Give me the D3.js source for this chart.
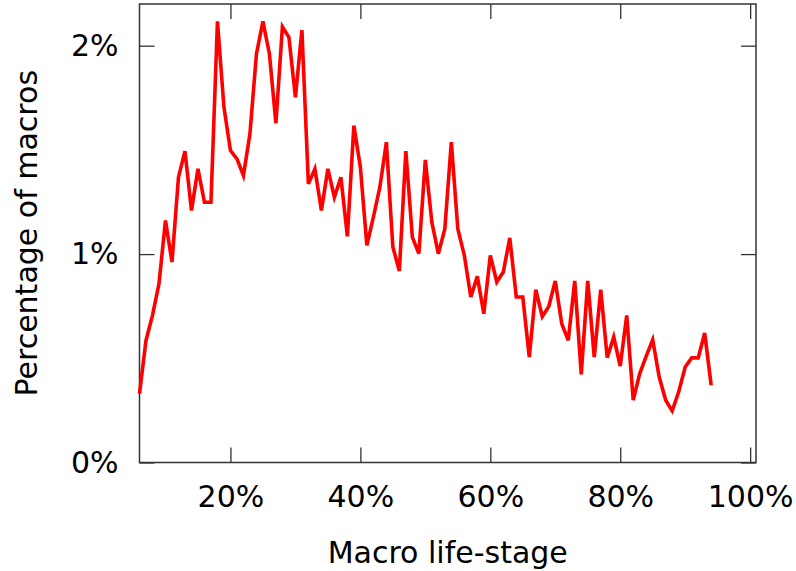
<!DOCTYPE html>
<html>
<head>
<meta charset="utf-8">
<script src="https://cdn.jsdelivr.net/npm/d3@7"></script>
<style>
  html, body { margin: 0; padding: 0; background: #fff; }
  svg text { font-family: "DejaVu Sans", sans-serif; fill: #000; }
</style>
</head>
<body>
<svg id="chart" width="796" height="571"></svg>
<script>
// Macro life-stage (percent of lifetime), one point per percent from 6% to 94%
const stages = d3.range(6, 95);
// Share of macros at each life-stage, in percent
const shares = [
  0.33, 0.586, 0.706, 0.858, 1.161, 0.962, 1.369, 1.494, 1.209, 1.409,
  1.249, 1.249, 2.117, 1.704, 1.497, 1.457, 1.377, 1.577, 1.96, 2.117,
  1.96, 1.628, 2.091, 2.04, 1.752, 2.075, 1.337, 1.409, 1.209, 1.409,
  1.273, 1.369, 1.085, 1.617, 1.417, 1.042, 1.177, 1.321, 1.537, 1.034,
  0.919, 1.494, 1.081, 1.002, 1.452, 1.153, 1.002, 1.121, 1.537, 1.121,
  0.994, 0.794, 0.893, 0.714, 0.994, 0.866, 0.914, 1.078, 0.794, 0.794,
  0.506, 0.829, 0.701, 0.749, 0.871, 0.666, 0.586, 0.871, 0.423, 0.871,
  0.506, 0.829, 0.503, 0.602, 0.463, 0.706, 0.299, 0.427, 0.51, 0.589,
  0.41, 0.299, 0.248, 0.339, 0.458, 0.502, 0.502, 0.621, 0.371
];
const xTicks = [20, 40, 60, 80, 100];
const yTicks = [0, 1, 2];
const xTitle = "Macro life-stage";
const yTitle = "Percentage of macros";

const svg = d3.select("#chart");
const plotL = 139.5, plotR = 756, plotT = 4, plotB = 462.5;
const tickLen = 15;

const x = d3.scaleLinear().domain([6, 100.9]).range([plotL, plotR]);
const y = d3.scaleLinear().domain([0, 2.2]).range([plotB, plotT]);

const fmt = d => d + "%";
const fontSize = 30;

// Axes: inward ticks on all four sides, labels only on bottom and left
const axisBottom = d3.axisBottom(x).tickValues(xTicks).tickFormat(fmt)
  .tickSizeInner(-tickLen).tickSizeOuter(0).tickPadding(23);
const axisTop = d3.axisTop(x).tickValues(xTicks).tickFormat("")
  .tickSizeInner(-tickLen).tickSizeOuter(0);
const axisLeft = d3.axisLeft(y).tickValues(yTicks).tickFormat(fmt)
  .tickSizeInner(-tickLen).tickSizeOuter(0).tickPadding(21);
const axisRight = d3.axisRight(y).tickValues(yTicks).tickFormat("")
  .tickSizeInner(-tickLen).tickSizeOuter(0);

function styleAxis(g) {
  g.select(".domain").remove();
  g.selectAll(".tick line").attr("stroke", "#333").attr("stroke-width", 1.3);
  g.selectAll(".tick text")
    .attr("font-family", "DejaVu Sans, sans-serif")
    .attr("font-size", fontSize)
    .attr("fill", "#000");
}

svg.append("g").attr("transform", `translate(0,${plotB})`).call(axisBottom).call(styleAxis);
svg.append("g").attr("transform", `translate(0,${plotT})`).call(axisTop).call(styleAxis);
svg.append("g").attr("transform", `translate(${plotL},0)`).call(axisLeft).call(styleAxis);
svg.append("g").attr("transform", `translate(${plotR},0)`).call(axisRight).call(styleAxis);

// Frame around the plot area
svg.append("rect")
  .attr("x", plotL).attr("y", plotT)
  .attr("width", plotR - plotL).attr("height", plotB - plotT)
  .attr("fill", "none").attr("stroke", "#333").attr("stroke-width", 1.5);

// Data line
const line = d3.line()
  .x((d, i) => x(stages[i]))
  .y(d => y(d));

svg.append("path")
  .datum(shares)
  .attr("d", line)
  .attr("fill", "none")
  .attr("stroke", "#ff0000")
  .attr("stroke-width", 3.6)
  .attr("stroke-linejoin", "miter");

// Axis titles
svg.append("text")
  .attr("x", (plotL + plotR) / 2)
  .attr("y", 563)
  .attr("text-anchor", "middle")
  .attr("font-size", fontSize)
  .text(xTitle);

svg.append("text")
  .attr("transform", `translate(37,${(plotT + plotB) / 2}) rotate(-90)`)
  .attr("text-anchor", "middle")
  .attr("font-size", fontSize)
  .text(yTitle);
</script>
</body>
</html>
